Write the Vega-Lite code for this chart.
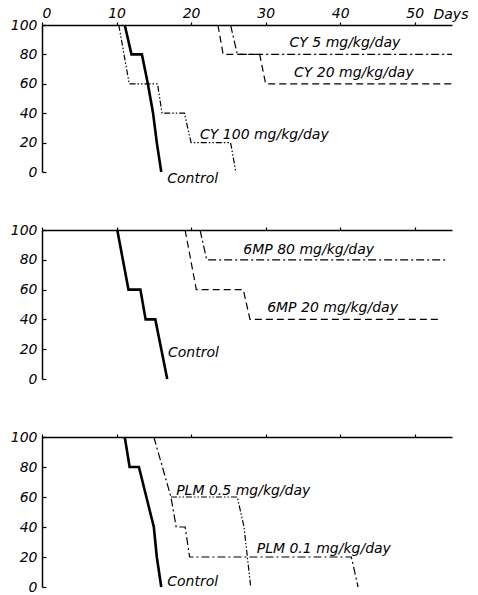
{
  "$schema": "https://vega.github.io/schema/vega-lite/v6.json",
  "background": "white",
  "padding": {"left": 10, "top": 6, "right": 4, "bottom": 4},
  "spacing": 58,
  "bounds": "flush",
  "config": {
    "view": {"stroke": null},
    "font": "DejaVu Sans",
    "axis": {"grid": false, "domainColor": "black", "tickColor": "black", "labelColor": "black", "titleColor": "black", "labelFont": "DejaVu Sans", "labelFontStyle": "italic", "labelFontSize": 14, "labelFontWeight": "normal", "labelOverlap": false, "domainWidth": 1.5, "tickWidth": 1.2}
  },
  "datasets": {
    "curves": [
      {"panel": 1, "series": "Control", "i": 1, "day": 11.1, "pct": 100},
      {"panel": 1, "series": "Control", "i": 2, "day": 12.0, "pct": 80},
      {"panel": 1, "series": "Control", "i": 3, "day": 13.4, "pct": 80},
      {"panel": 1, "series": "Control", "i": 4, "day": 14.2, "pct": 60},
      {"panel": 1, "series": "Control", "i": 5, "day": 14.9, "pct": 40},
      {"panel": 1, "series": "Control", "i": 6, "day": 15.4, "pct": 20},
      {"panel": 1, "series": "Control", "i": 7, "day": 16.0, "pct": 0},
      {"panel": 1, "series": "CY 100", "i": 1, "day": 10.3, "pct": 100},
      {"panel": 1, "series": "CY 100", "i": 2, "day": 11.7, "pct": 60},
      {"panel": 1, "series": "CY 100", "i": 3, "day": 15.5, "pct": 60},
      {"panel": 1, "series": "CY 100", "i": 4, "day": 16.1, "pct": 40},
      {"panel": 1, "series": "CY 100", "i": 5, "day": 19.1, "pct": 40},
      {"panel": 1, "series": "CY 100", "i": 6, "day": 20.0, "pct": 20},
      {"panel": 1, "series": "CY 100", "i": 7, "day": 25.3, "pct": 20},
      {"panel": 1, "series": "CY 100", "i": 8, "day": 26.0, "pct": 0},
      {"panel": 1, "series": "CY 20", "i": 1, "day": 23.6, "pct": 100},
      {"panel": 1, "series": "CY 20", "i": 2, "day": 24.3, "pct": 80},
      {"panel": 1, "series": "CY 20", "i": 3, "day": 29.2, "pct": 80},
      {"panel": 1, "series": "CY 20", "i": 4, "day": 30.0, "pct": 60},
      {"panel": 1, "series": "CY 20", "i": 5, "day": 55.0, "pct": 60},
      {"panel": 1, "series": "CY 5", "i": 1, "day": 25.3, "pct": 100},
      {"panel": 1, "series": "CY 5", "i": 2, "day": 26.2, "pct": 80},
      {"panel": 1, "series": "CY 5", "i": 3, "day": 55.0, "pct": 80},
      {"panel": 2, "series": "Control", "i": 1, "day": 10.1, "pct": 100},
      {"panel": 2, "series": "Control", "i": 2, "day": 11.6, "pct": 60},
      {"panel": 2, "series": "Control", "i": 3, "day": 13.2, "pct": 60},
      {"panel": 2, "series": "Control", "i": 4, "day": 13.9, "pct": 40},
      {"panel": 2, "series": "Control", "i": 5, "day": 15.2, "pct": 40},
      {"panel": 2, "series": "Control", "i": 6, "day": 16.8, "pct": 0},
      {"panel": 2, "series": "6MP 20", "i": 1, "day": 19.2, "pct": 100},
      {"panel": 2, "series": "6MP 20", "i": 2, "day": 20.7, "pct": 60},
      {"panel": 2, "series": "6MP 20", "i": 3, "day": 27.0, "pct": 60},
      {"panel": 2, "series": "6MP 20", "i": 4, "day": 27.9, "pct": 40},
      {"panel": 2, "series": "6MP 20", "i": 5, "day": 53.5, "pct": 40},
      {"panel": 2, "series": "6MP 80", "i": 1, "day": 21.2, "pct": 100},
      {"panel": 2, "series": "6MP 80", "i": 2, "day": 22.1, "pct": 80},
      {"panel": 2, "series": "6MP 80", "i": 3, "day": 54.3, "pct": 80},
      {"panel": 3, "series": "Control", "i": 1, "day": 11.1, "pct": 100},
      {"panel": 3, "series": "Control", "i": 2, "day": 11.75, "pct": 80},
      {"panel": 3, "series": "Control", "i": 3, "day": 13.0, "pct": 80},
      {"panel": 3, "series": "Control", "i": 4, "day": 14.0, "pct": 60},
      {"panel": 3, "series": "Control", "i": 5, "day": 15.0, "pct": 40},
      {"panel": 3, "series": "Control", "i": 6, "day": 15.4, "pct": 20},
      {"panel": 3, "series": "Control", "i": 7, "day": 16.0, "pct": 0},
      {"panel": 3, "series": "PLM 0.1", "i": 1, "day": 15.0, "pct": 100},
      {"panel": 3, "series": "PLM 0.1", "i": 2, "day": 17.3, "pct": 60},
      {"panel": 3, "series": "PLM 0.1", "i": 3, "day": 18.0, "pct": 40},
      {"panel": 3, "series": "PLM 0.1", "i": 4, "day": 19.2, "pct": 40},
      {"panel": 3, "series": "PLM 0.1", "i": 5, "day": 19.8, "pct": 20},
      {"panel": 3, "series": "PLM 0.1", "i": 6, "day": 41.5, "pct": 20},
      {"panel": 3, "series": "PLM 0.1", "i": 7, "day": 42.4, "pct": 0},
      {"panel": 3, "series": "PLM 0.5", "i": 1, "day": 17.3, "pct": 60},
      {"panel": 3, "series": "PLM 0.5", "i": 2, "day": 26.2, "pct": 60},
      {"panel": 3, "series": "PLM 0.5", "i": 3, "day": 27.1, "pct": 40},
      {"panel": 3, "series": "PLM 0.5", "i": 4, "day": 28.0, "pct": 0}
    ],
    "labels": [
      {"panel": 1, "text": "Control", "day": 16.8, "pct": -5},
      {"panel": 1, "text": "CY 5 mg/kg/day", "day": 33.2, "pct": 87.5},
      {"panel": 1, "text": "CY 20 mg/kg/day", "day": 33.8, "pct": 67.5},
      {"panel": 1, "text": "CY 100 mg/kg/day", "day": 21.2, "pct": 25.2},
      {"panel": 2, "text": "6MP  80 mg/kg/day", "day": 27.0, "pct": 86.8},
      {"panel": 2, "text": "6MP 20 mg/kg/day", "day": 30.2, "pct": 47.7},
      {"panel": 2, "text": "Control", "day": 16.9, "pct": 17.4},
      {"panel": 3, "text": "PLM 0.5 mg/kg/day", "day": 18.0, "pct": 64.2},
      {"panel": 3, "text": "PLM 0.1 mg/kg/day", "day": 28.8, "pct": 25.3},
      {"panel": 3, "text": "Control", "day": 16.8, "pct": 3.1}
    ]
  },
  "vconcat": [
    {
      "width": 410, "height": 147,
      "encoding": {
        "x": {"field": "day", "type": "quantitative", "scale": {"domain": [0, 55], "nice": false}, "axis": {"orient": "top", "values": [0, 10, 20, 30, 40, 50], "tickSize": 3, "labelPadding": 2, "title": "Days", "titleFont": "DejaVu Sans", "titleFontStyle": "italic", "titleFontWeight": "normal", "titleFontSize": 14, "titleAlign": "left", "titleAnchor": "start", "titleBaseline": "middle", "titleX": 391, "titleY": -11}},
        "y": {"field": "pct", "type": "quantitative", "scale": {"domain": [0, 100], "nice": false}, "axis": {"values": [0, 20, 40, 60, 80, 100], "tickSize": -4, "labelPadding": 9, "labelOverlap": false, "title": null}}
      },
      "layer": [
        {
          "data": {"name": "curves"},
          "transform": [{"filter": "datum.panel == 1 && datum.series != 'Control'"}],
          "mark": {"type": "line", "color": "black", "strokeWidth": 1.2},
          "encoding": {
            "detail": {"field": "series"},
            "order": {"field": "i"},
            "strokeDash": {"field": "series", "type": "nominal", "legend": null, "scale": {"domain": ["CY 5", "CY 20", "CY 100"], "range": [[8, 3, 2, 3], [7, 4], [6, 2, 1.5, 2, 1.5, 2]]}}
          }
        },
        {
          "data": {"name": "curves"},
          "transform": [{"filter": "datum.panel == 1 && datum.series == 'Control'"}],
          "mark": {"type": "line", "color": "black", "strokeWidth": 2.6},
          "encoding": {"order": {"field": "i"}}
        },
        {
          "data": {"name": "labels"},
          "transform": [{"filter": "datum.panel == 1"}],
          "mark": {"type": "text", "align": "left", "baseline": "middle", "fontSize": 14, "fontStyle": "italic", "font": "DejaVu Sans", "color": "black"},
          "encoding": {"text": {"field": "text"}}
        }
      ]
    },
    {
      "width": 410, "height": 149,
      "encoding": {
        "x": {"field": "day", "type": "quantitative", "scale": {"domain": [0, 55], "nice": false}, "axis": {"orient": "top", "values": [0, 10, 20, 30, 40, 50], "tickSize": 3, "labels": false, "title": null}},
        "y": {"field": "pct", "type": "quantitative", "scale": {"domain": [0, 100], "nice": false}, "axis": {"values": [0, 20, 40, 60, 80, 100], "tickSize": -4, "labelPadding": 9, "labelOverlap": false, "title": null}}
      },
      "layer": [
        {
          "data": {"name": "curves"},
          "transform": [{"filter": "datum.panel == 2 && datum.series != 'Control'"}],
          "mark": {"type": "line", "color": "black", "strokeWidth": 1.2},
          "encoding": {
            "detail": {"field": "series"},
            "order": {"field": "i"},
            "strokeDash": {"field": "series", "type": "nominal", "legend": null, "scale": {"domain": ["6MP 80", "6MP 20"], "range": [[8, 3, 2, 3], [7, 4]]}}
          }
        },
        {
          "data": {"name": "curves"},
          "transform": [{"filter": "datum.panel == 2 && datum.series == 'Control'"}],
          "mark": {"type": "line", "color": "black", "strokeWidth": 2.6},
          "encoding": {"order": {"field": "i"}}
        },
        {
          "data": {"name": "labels"},
          "transform": [{"filter": "datum.panel == 2"}],
          "mark": {"type": "text", "align": "left", "baseline": "middle", "fontSize": 14, "fontStyle": "italic", "font": "DejaVu Sans", "color": "black"},
          "encoding": {"text": {"field": "text"}}
        }
      ]
    },
    {
      "width": 410, "height": 150,
      "encoding": {
        "x": {"field": "day", "type": "quantitative", "scale": {"domain": [0, 55], "nice": false}, "axis": {"orient": "top", "values": [0, 10, 20, 30, 40, 50], "tickSize": 3, "labels": false, "title": null}},
        "y": {"field": "pct", "type": "quantitative", "scale": {"domain": [0, 100], "nice": false}, "axis": {"values": [0, 20, 40, 60, 80, 100], "tickSize": -4, "labelPadding": 9, "labelOverlap": false, "title": null}}
      },
      "layer": [
        {
          "data": {"name": "curves"},
          "transform": [{"filter": "datum.panel == 3 && datum.series != 'Control'"}],
          "mark": {"type": "line", "color": "black", "strokeWidth": 1.2},
          "encoding": {
            "detail": {"field": "series"},
            "order": {"field": "i"},
            "strokeDash": {"field": "series", "type": "nominal", "legend": null, "scale": {"domain": ["PLM 0.5", "PLM 0.1"], "range": [[8, 3, 2, 3], [7, 4]]}}
          }
        },
        {
          "data": {"name": "curves"},
          "transform": [{"filter": "datum.panel == 3 && datum.series == 'Control'"}],
          "mark": {"type": "line", "color": "black", "strokeWidth": 2.6},
          "encoding": {"order": {"field": "i"}}
        },
        {
          "data": {"name": "labels"},
          "transform": [{"filter": "datum.panel == 3"}],
          "mark": {"type": "text", "align": "left", "baseline": "middle", "fontSize": 14, "fontStyle": "italic", "font": "DejaVu Sans", "color": "black"},
          "encoding": {"text": {"field": "text"}}
        }
      ]
    }
  ]
}
